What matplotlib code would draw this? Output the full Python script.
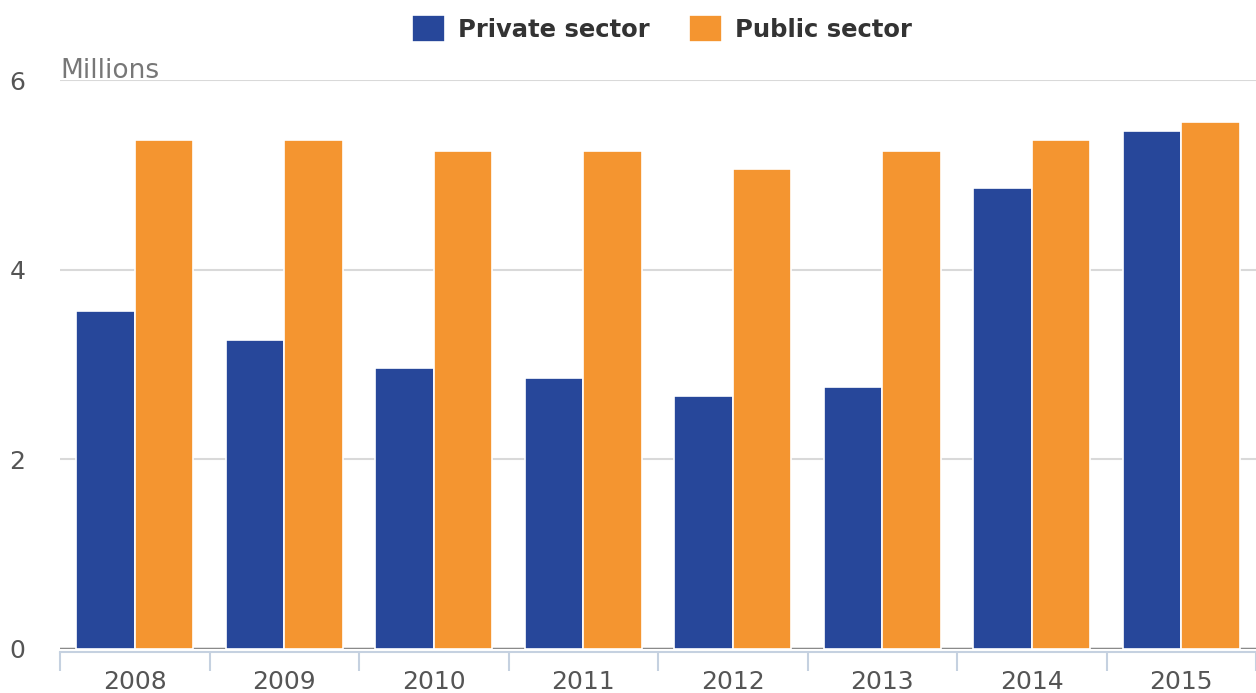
import numpy as np
import matplotlib.pyplot as plt

plt.rcParams['font.family'] = ['DejaVu Sans']

years = ['2008', '2009', '2010', '2011', '2012', '2013', '2014', '2015']
private = [3.56, 3.26, 2.96, 2.86, 2.67, 2.76, 4.86, 5.46]
public = [5.37, 5.37, 5.25, 5.25, 5.06, 5.25, 5.37, 5.56]

blue = '#27479a'
orange = '#f49530'

fig = plt.figure(figsize=(12.56, 6.93), dpi=100)
ax = fig.add_axes([60 / 1256, 44 / 693, 1196 / 1256, 569 / 693])

x = np.arange(len(years))
w = 0.39
ax.bar(x - w / 2, private, w, color=blue, edgecolor='white', linewidth=1.2, label='Private sector', zorder=3)
ax.bar(x + w / 2, public, w, color=orange, edgecolor='white', linewidth=1.2, label='Public sector', zorder=3)

ax.set_xlim(-0.5, len(years) - 0.5)
ax.set_ylim(0, 6)

ax.set_yticks([0, 2, 4, 6])
ax.yaxis.grid(True, color='#d9d9d9', linewidth=1.5, zorder=0)
ax.axhline(0, color='#8a8a8a', linewidth=2.5, zorder=2)
ax.tick_params(axis='y', length=0, labelsize=18, labelcolor='#555555', pad=25)

ax.set_xticks(x)
ax.set_xticklabels(years)
ax.set_xticks(np.arange(-0.5, len(years)), minor=True)
ax.tick_params(axis='x', which='major', length=0, labelsize=18, labelcolor='#555555', pad=13)
ax.tick_params(axis='x', which='minor', length=14, width=1.5, color='#c5d1e0')

for s in ['top', 'right', 'left']:
    ax.spines[s].set_visible(False)
ax.spines['bottom'].set_position(('outward', 2))
ax.spines['bottom'].set_color('#c5d1e0')
ax.spines['bottom'].set_linewidth(1.5)

fig.text(60 / 1256, 1 - 78 / 693, 'Millions', fontsize=19, color='#777777', va='baseline', ha='left')

leg = fig.legend(loc='upper center', bbox_to_anchor=(0.527, 1.01), ncol=2, frameon=False,
                 prop={'weight': 'bold', 'size': 17.5}, handlelength=1.35, handleheight=1.33,
                 columnspacing=1.6, handletextpad=0.55)
for t in leg.get_texts():
    t.set_color('#333333')

fig.savefig('out.png', dpi=100)
